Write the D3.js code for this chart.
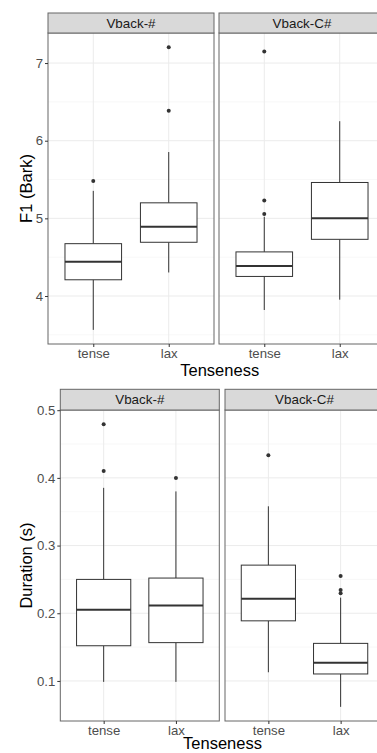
<!DOCTYPE html>
<html><head><meta charset="utf-8">
<script src="https://cdn.jsdelivr.net/npm/d3@7"></script>
<style>body{margin:0;background:#fff;} svg{display:block;font-family:"Liberation Sans",Arial,sans-serif;}</style>
</head><body>
<svg id="c" width="377" height="753"></svg>
<script>
// ---- data ----
const facets = ["Vback-#", "Vback-C#"];
const categories = ["tense", "lax"];
// order: [facet0-tense, facet0-lax, facet1-tense, facet1-lax]
const f1WhiskerLow  = [3.564, 4.303, 3.82, 3.953];
const f1BoxLow      = [4.209, 4.692, 4.252, 4.73];
const f1Median      = [4.44, 4.892, 4.385, 5.0];
const f1BoxHigh     = [4.674, 5.2, 4.568, 5.462];
const f1WhiskerHigh = [5.354, 5.854, 5.02, 6.251];
const f1Outliers    = [[5.48], [7.205, 6.385], [7.15, 5.231, 5.055], []];
const f1Ticks = [4, 5, 6, 7];
const f1Minor = [3.5, 4.5, 5.5, 6.5];

const durWhiskerLow  = [0.0986, 0.0986, 0.1128, 0.0617];
const durBoxLow      = [0.152, 0.1566, 0.1888, 0.1103];
const durMedian      = [0.205, 0.2113, 0.2216, 0.127];
const durBoxHigh     = [0.25, 0.252, 0.2711, 0.1555];
const durWhiskerHigh = [0.3853, 0.38, 0.358, 0.2231];
const durOutliers    = [[0.4794, 0.4103], [0.4], [0.4334], [0.2549, 0.2343, 0.2295]];
const durTicks = [0.1, 0.2, 0.3, 0.4, 0.5];
const durMinor = [0.15, 0.25, 0.35, 0.45];

const svg = d3.select("#c");
const FONT = '"Liberation Sans", Arial, sans-serif';

function drawPlot(cfg) {
  const allVals = cfg.wl.concat(cfg.wh, cfg.out.flat());
  const lo = d3.min(allVals), hi = d3.max(allVals), d = hi - lo;
  const y = d3.scaleLinear().domain([lo - 0.05 * d, hi + 0.05 * d]).range([cfg.panelBottom, cfg.panelTop]);
  const g = svg.append("g");

  cfg.panels.forEach((px, fi) => {
    const x = d3.scalePoint().domain(categories).range(px).padding(0.6);
    const step = x.step();
    const pg = g.append("g");
    pg.selectAll(".minor").data(cfg.minor).join("line")
      .attr("x1", px[0]).attr("x2", px[1])
      .attr("y1", v => y(v)).attr("y2", v => y(v))
      .attr("stroke", "#f3f3f3").attr("stroke-width", 0.6);
    pg.selectAll(".major").data(cfg.ticks).join("line")
      .attr("x1", px[0]).attr("x2", px[1])
      .attr("y1", v => y(v)).attr("y2", v => y(v))
      .attr("stroke", "#ebebeb").attr("stroke-width", 1);
    pg.selectAll(".vmajor").data(categories).join("line")
      .attr("x1", c => x(c)).attr("x2", c => x(c))
      .attr("y1", cfg.panelTop).attr("y2", cfg.panelBottom)
      .attr("stroke", "#ebebeb").attr("stroke-width", 1);

    categories.forEach((c, ci) => {
      const i = fi * 2 + ci;
      const cx = x(c), bw = step * 0.75;
      pg.append("line").attr("x1", cx).attr("x2", cx)
        .attr("y1", y(cfg.wl[i])).attr("y2", y(cfg.bl[i]))
        .attr("stroke", "#333").attr("stroke-width", 1);
      pg.append("line").attr("x1", cx).attr("x2", cx)
        .attr("y1", y(cfg.bh[i])).attr("y2", y(cfg.wh[i]))
        .attr("stroke", "#333").attr("stroke-width", 1);
      pg.append("rect").attr("x", cx - bw / 2).attr("width", bw)
        .attr("y", y(cfg.bh[i])).attr("height", y(cfg.bl[i]) - y(cfg.bh[i]))
        .attr("fill", "#fff").attr("stroke", "#333").attr("stroke-width", 1);
      pg.append("line").attr("x1", cx - bw / 2).attr("x2", cx + bw / 2)
        .attr("y1", y(cfg.med[i])).attr("y2", y(cfg.med[i]))
        .attr("stroke", "#333").attr("stroke-width", 2);
      pg.selectAll(null).data(cfg.out[i]).join("circle")
        .attr("cx", cx).attr("cy", v => y(v)).attr("r", 2)
        .attr("fill", "#333");
    });

    pg.append("rect").attr("x", px[0]).attr("y", cfg.panelTop)
      .attr("width", px[1] - px[0]).attr("height", cfg.panelBottom - cfg.panelTop)
      .attr("fill", "none").attr("stroke", "#666").attr("stroke-width", 1);
    pg.append("rect").attr("x", px[0]).attr("y", cfg.stripTop)
      .attr("width", px[1] - px[0]).attr("height", cfg.panelTop - cfg.stripTop)
      .attr("fill", "#d9d9d9").attr("stroke", "#666").attr("stroke-width", 1);
    pg.append("text").attr("x", (px[0] + px[1]) / 2).attr("y", (cfg.stripTop + cfg.panelTop) / 2)
      .attr("dy", "0.36em").attr("text-anchor", "middle")
      .attr("font-size", 13.4).attr("fill", "#1a1a1a").text(facets[fi]);

    const xa = pg.append("g").attr("transform", `translate(0,${cfg.panelBottom})`)
      .call(d3.axisBottom(x).tickSize(3).tickPadding(2))
      .attr("font-family", FONT).attr("font-size", 13.2);
    xa.select(".domain").remove();
    xa.selectAll("line").attr("stroke", "#333");
    xa.selectAll("text").attr("fill", "#4d4d4d");
  });

  const ya = g.append("g").attr("transform", `translate(${cfg.panels[0][0]},0)`)
    .call(d3.axisLeft(y).tickValues(cfg.ticks).tickFormat(cfg.fmt).tickSize(3).tickPadding(2))
    .attr("font-family", FONT).attr("font-size", 13.2);
  ya.select(".domain").remove();
  ya.selectAll("line").attr("stroke", "#333");
  ya.selectAll("text").attr("fill", "#4d4d4d");

  g.append("text").attr("x", cfg.xTitleX).attr("y", cfg.xTitleY).attr("text-anchor", "middle")
    .attr("font-size", 16.5).attr("fill", "#000").text("Tenseness");
  g.append("text").attr("transform", `translate(${cfg.yTitleX},${(cfg.panelTop + cfg.panelBottom) / 2}) rotate(-90)`)
    .attr("text-anchor", "middle").attr("font-size", 16.5).attr("fill", "#000").text(cfg.yTitle);
}

drawPlot({
  wl: f1WhiskerLow, bl: f1BoxLow, med: f1Median, bh: f1BoxHigh, wh: f1WhiskerHigh, out: f1Outliers,
  ticks: f1Ticks, minor: f1Minor, fmt: d3.format("d"),
  panels: [[48, 214], [219, 385]], stripTop: 13, panelTop: 33, panelBottom: 344,
  xTitleX: 219.7, xTitleY: 376, yTitleX: 31.5, yTitle: "F1 (Bark)"
});
drawPlot({
  wl: durWhiskerLow, bl: durBoxLow, med: durMedian, bh: durBoxHigh, wh: durWhiskerHigh, out: durOutliers,
  ticks: durTicks, minor: durMinor, fmt: d3.format(".1f"),
  panels: [[60.3, 219.3], [225, 384]], stripTop: 389.3, panelTop: 410, panelBottom: 721,
  xTitleX: 222.5, xTitleY: 749, yTitleX: 32, yTitle: "Duration (s)"
});
</script>
</body></html>
